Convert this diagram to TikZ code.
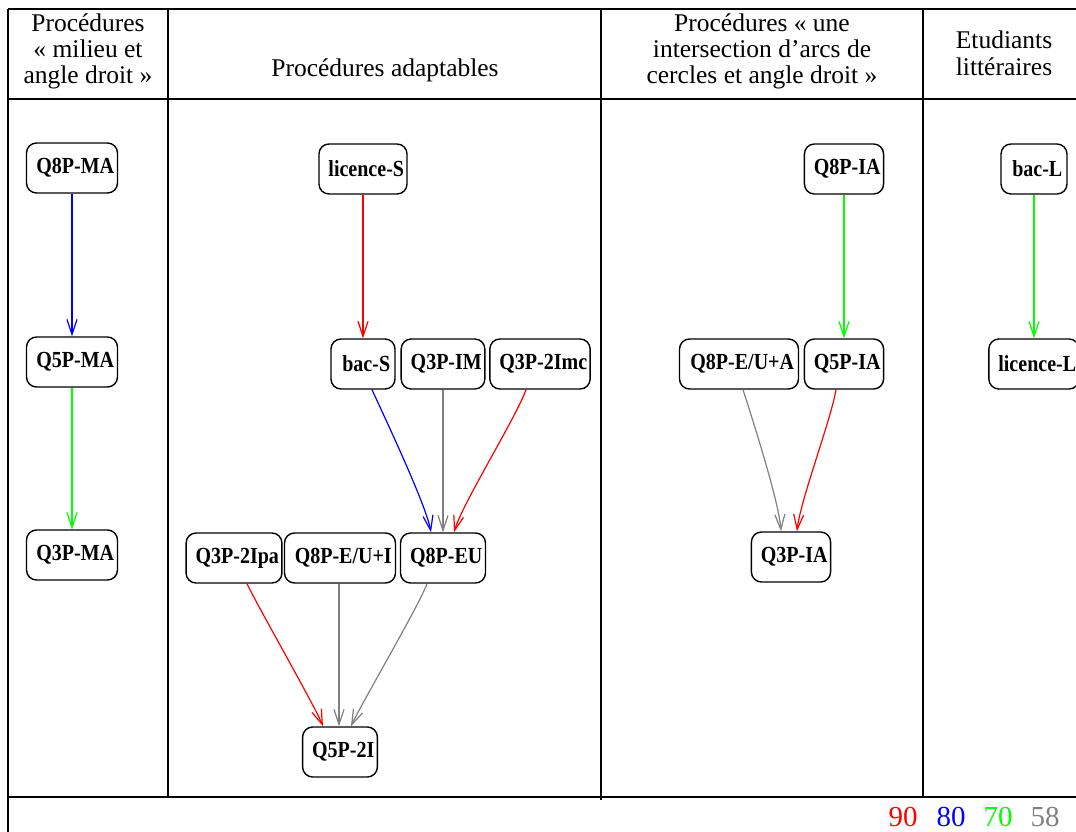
\documentclass[tikz,border=0pt]{standalone}
\usepackage{fontspec}
\usepackage{graphicx}
\setmainfont{Liberation Serif}
\usetikzlibrary{arrows.meta,calc}
\definecolor{ered}{RGB}{255,0,0}
\definecolor{eblue}{RGB}{0,0,255}
\definecolor{egreen}{RGB}{0,255,0}
\definecolor{egray}{RGB}{128,128,128}
\tikzset{
  nbox/.style={draw, line width=1.4pt, rounded corners=10pt, minimum height=50pt,
    inner xsep=0pt, inner ysep=0pt, font=\fontsize{23}{24}\selectfont\bfseries},
  edge/.style={line width=1.2pt, -{Straight Barb[length=15pt,width=10pt]}},
  gridline/.style={line width=2pt},
  head/.style={font=\fontsize{25.5}{26}\selectfont, anchor=base, inner sep=0pt},
  legend/.style={font=\fontsize{29}{29}\selectfont, anchor=base, inner sep=0pt},
}
\newcommand{\nt}[1]{\hspace*{9.5pt}\scalebox{0.87}[1]{#1}\hspace*{3pt}}
\begin{document}
\begin{tikzpicture}[x=1pt,y=-1pt]
\useasboundingbox (0,0) rectangle (1076,832);
% table
\draw[gridline] (8,9) -- (1090,9);
\draw[gridline] (8,99) -- (1090,99);
\draw[gridline] (8,797) -- (1090,797);
\draw[gridline] (8,9) -- (8,840);
\draw[gridline] (168,9) -- (168,797);
\draw[gridline] (601,9) -- (601,800);
\draw[gridline] (923,9) -- (923,797);
% headers
\node[head] (h1a) at (88,32) {Procédures};
\node[head] (h1b) at (88,58) {« milieu et};
\node[head] (h1c) at (88,84) {angle droit »};
\node[head] (h2) at (385,77) {Procédures adaptables};
\node[head] (h3a) at (762,32) {Procédures « une};
\node[head] (h3b) at (762,58) {intersection d’arcs de};
\node[head] (h3c) at (762,84) {cercles et angle droit »};
\node[head] (h4a) at (1004,49) {Etudiants};
\node[head] (h4b) at (1004,76) {littéraires};
% nodes
\node[nbox, minimum width=91pt] (Q8PMA) at (72,168) {\nt{Q8P-MA}};
\node[nbox, minimum width=91pt] (Q5PMA) at (72,362) {\nt{Q5P-MA}};
\node[nbox, minimum width=91pt] (Q3PMA) at (72,555) {\nt{Q3P-MA}};
\node[nbox, minimum width=87pt] (licS) at (363,169) {\nt{licence-S}};
\node[nbox, minimum width=64pt] (bacS) at (363,364) {\nt{bac-S}};
\node[nbox, minimum width=82pt] (Q3PIM) at (443,364) {\nt{Q3P-IM}};
\node[nbox, minimum width=98pt] (Q3P2Imc) at (540,364) {\nt{Q3P-2Imc}};
\node[nbox, minimum width=92pt] (Q3P2Ipa) at (234,558) {\nt{Q3P-2Ipa}};
\node[nbox, minimum width=111pt] (Q8PEUI) at (340,558) {\nt{Q8P-E/U+I}};
\node[nbox, minimum width=85pt] (Q8PEU) at (443,558) {\nt{Q8P-EU}};
\node[nbox, minimum width=74pt] (Q5P2I) at (340,752) {\nt{Q5P-2I}};
\node[nbox, minimum width=79pt] (Q8PIA) at (844,169) {\nt{Q8P-IA}};
\node[nbox, minimum width=119pt] (Q8PEUA) at (739,364) {\nt{Q8P-E/U+A}};
\node[nbox, minimum width=79pt] (Q5PIA) at (844,364) {\nt{Q5P-IA}};
\node[nbox, minimum width=79pt] (Q3PIA) at (791,557) {\nt{Q3P-IA}};
\node[nbox, minimum width=66pt] (bacL) at (1034,169) {\nt{bac-L}};
\node[nbox, minimum width=90pt] (licL) at (1034,364) {\nt{licence-L}};
% edges
\draw[edge, eblue] (Q8PMA) -- (Q5PMA);
\draw[edge, egreen] (Q5PMA) -- (Q3PMA);
\draw[edge, ered] (licS) -- (bacS);
\draw[edge, eblue] ($(bacS.south)+(9,0)$) .. controls +(10,22) and +(-5,-28) .. ($(Q8PEU.north)+(-12,0)$);
\draw[edge, egray] (Q3PIM) -- (Q8PEU);
\draw[edge, ered] ($(Q3P2Imc.south)+(-14,0)$) .. controls +(-10,28) and +(8,-28) .. ($(Q8PEU.north)+(11,0)$);
\draw[edge, ered] ($(Q3P2Ipa.south)+(13,0)$) .. controls +(12,25) and +(-8,-20) .. ($(Q5P2I.north)+(-17,0)$);
\draw[edge, egray] ($(Q8PEUI.south)+(-1,0)$) -- ($(Q5P2I.north)+(-1,0)$);
\draw[edge, egray] ($(Q8PEU.south)+(-16,0)$) .. controls +(-8,22) and +(10,-22) .. ($(Q5P2I.north)+(11,0)$);
\draw[edge, egreen] (Q8PIA) -- (Q5PIA);
\draw[edge, egray] ($(Q8PEUA.south)+(4,0)$) .. controls +(8,25) and +(-2,-30) .. ($(Q3PIA.north)+(-10,0)$);
\draw[edge, ered] ($(Q5PIA.south)+(-8,0)$) .. controls +(-5,30) and +(3,-30) .. ($(Q3PIA.north)+(6,0)$);
\draw[edge, egreen] (bacL) -- (licL);
% legend
\node[legend, text=ered] (l90) at (903,826) {90};
\node[legend, text=eblue] (l80) at (951,826) {80};
\node[legend, text=egreen] (l70) at (998,826) {70};
\node[legend, text=egray] (l58) at (1045,826) {58};
\end{tikzpicture}
\end{document}
